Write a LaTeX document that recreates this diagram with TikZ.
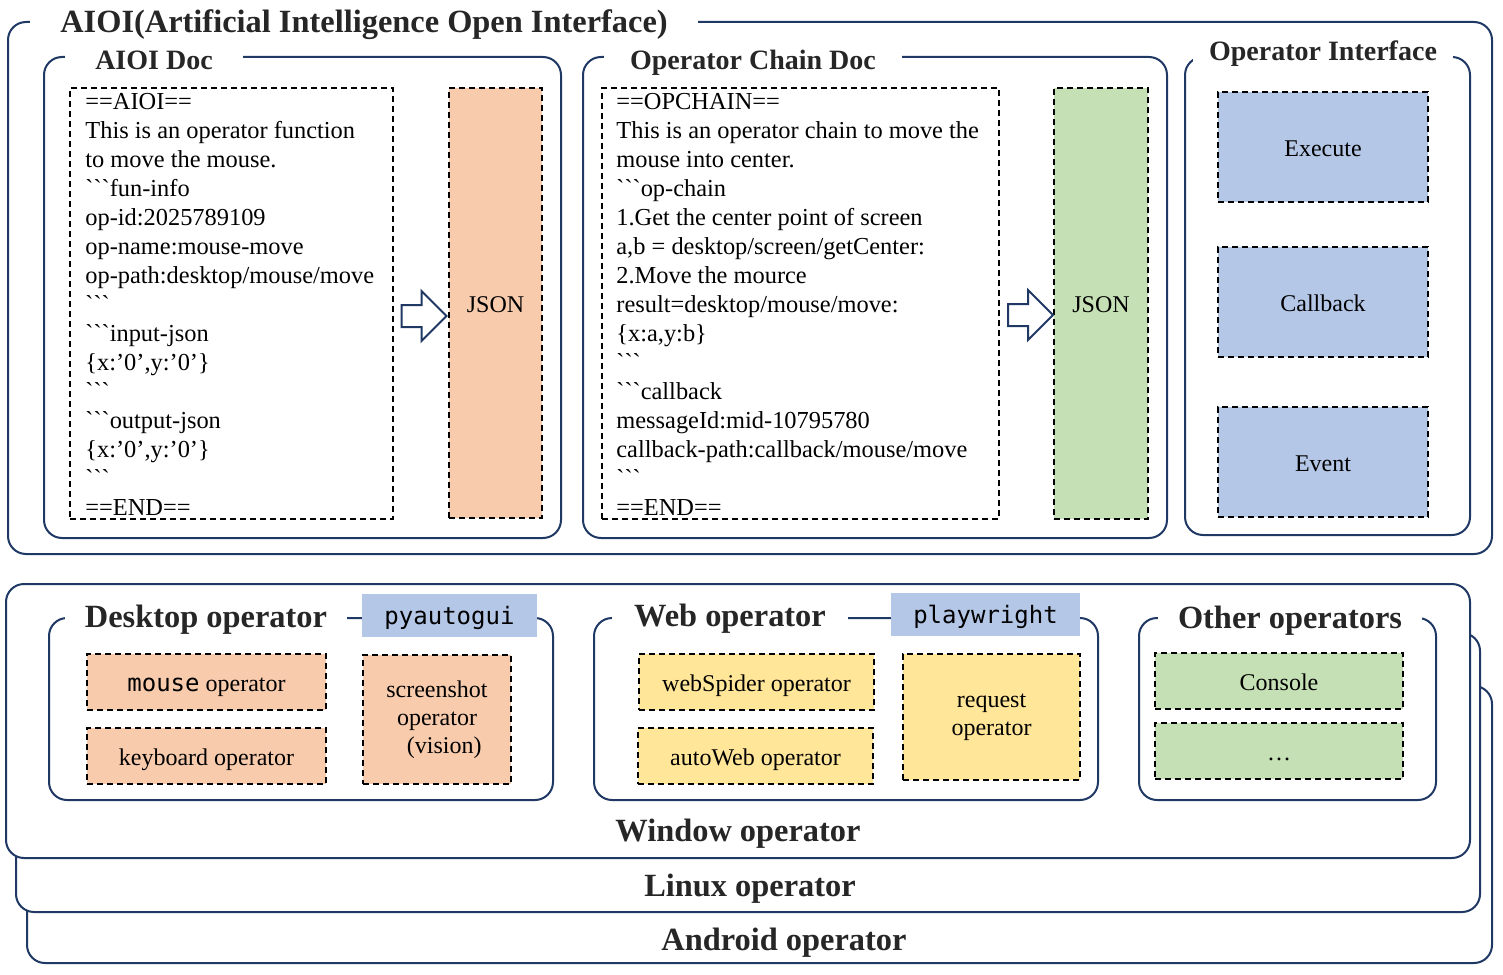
\documentclass[tikz,border=0pt]{standalone}
\usepackage{fontspec}
\setmainfont{Liberation Serif}
\setmonofont{DejaVu Sans Mono}
\usetikzlibrary{positioning, fit, shapes.arrows}

\definecolor{navy}{HTML}{1F3864}
\definecolor{peach}{HTML}{F8CBAD}
\definecolor{leaf}{HTML}{C5E0B4}
\definecolor{sky}{HTML}{B4C7E7}
\definecolor{butter}{HTML}{FFE699}
\definecolor{ink}{HTML}{262626}

\newcommand{\ticks}{\textasciigrave\textasciigrave\textasciigrave}

\begin{document}
\begin{tikzpicture}[
            x = 0.5pt,
            y = -0.5pt,
            frame/.style = {draw=navy, line width=1pt, rounded corners=9pt, inner sep=0pt},
            ttl/.style = {fill=white, text=ink, font=\bfseries\fontsize{14}{16}\selectfont, inner xsep=10pt, inner ysep=1pt},
            bigttl/.style = {ttl, font=\bfseries\fontsize{16.2}{18}\selectfont},
            lbl/.style = {text=ink, font=\bfseries\fontsize{16.2}{18}\selectfont},
            dbox/.style = {draw=black, line width=1pt, dash pattern=on 3pt off 2pt, inner sep=0pt, align=center, font=\fontsize{12}{14}\selectfont},
            oneline/.style = {text height=11pt, text depth=2pt},
            lib/.style = {fill=sky, inner sep=0pt, oneline, font=\ttfamily\fontsize{12}{14}\selectfont},
            doctext/.style = {inner sep=0pt, align=left, font=\fontsize{12.2}{14.5}\selectfont},
            bigarrow/.style = {single arrow, draw=navy, fill=white, line width=1pt, minimum height=22.5pt, minimum width=24pt, single arrow head extend=7pt, inner xsep=0pt, inner ysep=5pt}
        ]
        \useasboundingbox (0,0) rectangle (1503,974);

        \node[frame, fit={(8,22) (1492,554)}] (aioi) {};
        \node[bigttl, inner xsep=15pt] (aioittl) at (364,25) {AIOI(Artificial Intelligence Open Interface)};

        \node[frame, fit={(44,57) (561,538)}] (aioidoc) {};
        \node[ttl, inner xsep=15pt] (aioidocttl) at (154,60) {AIOI Doc};
        \node[dbox, fit={(70,88) (393,519)}] (aioibox) {};
        \node[doctext, below right=3pt and 8pt of aioibox.north west] (aioitxt) {==AIOI==\\
            This is an operator function\\
            to move the mouse.\\
            \ticks fun-info\\
            op-id:2025789109\\
            op-name:mouse-move\\
            op-path:desktop/mouse/move\\
            \ticks\\
            \ticks input-json\\
            \{x:'0',y:'0'\}\\
            \ticks\\
            \ticks output-json\\
            \{x:'0',y:'0'\}\\
            \ticks\\
            ==END==};
        \node[dbox, oneline, fill=peach, minimum width=46.5pt, minimum height=215pt] (aioijson) at (495.5,303) {JSON};
        \node[bigarrow] (aioiarr) at (418.5,316) {};

        \node[frame, fit={(583,57) (1167,538)}] (chaindoc) {};
        \node[ttl, inner xsep=13pt] (chaindocttl) at (753,63) {Operator Chain Doc};
        \node[dbox, fit={(602,88) (999,519)}] (chainbox) {};
        \node[doctext, below right=3pt and 7.5pt of chainbox.north west] (chaintxt) {==OPCHAIN==\\
            This is an operator chain to move the\\
            mouse into center.\\
            \ticks op-chain\\
            1.Get the center point of screen\\
            a,b = desktop/screen/getCenter:\\
            2.Move the mource\\
            result=desktop/mouse/move:\\
            \{x:a,y:b\}\\
            \ticks\\
            \ticks callback\\
            messageId:mid-10795780\\
            callback-path:callback/mouse/move\\
            \ticks\\
            ==END==};
        \node[dbox, oneline, fill=leaf, minimum width=47pt, minimum height=215.5pt] (chainjson) at (1101,303.5) {JSON};
        \node[bigarrow] (chainarr) at (1025,315) {};

        \node[frame, fit={(1185,57) (1470,535)}] (iface) {};
        \node[ttl, inner xsep=8pt] (ifacettl) at (1323,54) {Operator Interface};
        \node[dbox, oneline, fill=sky, minimum width=105pt, minimum height=55pt] (execute) at (1323,147) {Execute};
        \node[dbox, oneline, fill=sky, minimum width=105pt, minimum height=55pt] (callback) at (1323,302) {Callback};
        \node[dbox, oneline, fill=sky, minimum width=105pt, minimum height=55pt] (event) at (1323,462) {Event};

        \node[frame, fill=white, fit={(27,686) (1492,963)}] (android) {};
        \node[lbl] (androidlbl) at (784,943) {Android operator};
        \node[frame, fill=white, fit={(16,633) (1480,912)}] (linux) {};
        \node[lbl] (linuxlbl) at (750,889) {Linux operator};
        \node[frame, fill=white, fit={(6,584) (1470,858)}] (window) {};
        \node[lbl] (windowlbl) at (738,834) {Window operator};

        \node[frame, fit={(49,618) (553,800)}] (desktop) {};
        \node[bigttl] (desktopttl) at (206,620) {Desktop operator};
        \node[lib, minimum width=87.5pt, minimum height=21.5pt] (pyauto) at (449.5,615.5) {pyautogui};
        \node[dbox, oneline, fill=peach, minimum width=119.5pt, minimum height=28pt] (mouse) at (206.5,682) {{\ttfamily mouse} operator};
        \node[dbox, oneline, fill=peach, minimum width=119.5pt, minimum height=28pt] (keyboard) at (206.5,756) {keyboard operator};
        \node[dbox, fill=peach, minimum width=74pt, minimum height=64.5pt] (screenshot) at (437,719.5) {screenshot\\operator\\\hspace{0.6em}(vision)};

        \node[frame, fit={(594,618) (1098,800)}] (web) {};
        \node[bigttl, inner xsep=11pt] (webttl) at (730,619) {Web operator};
        \node[lib, minimum width=94.5pt, minimum height=21.5pt] (playwright) at (985.5,614.5) {playwright};
        \node[dbox, oneline, fill=butter, minimum width=117.5pt, minimum height=28pt] (spider) at (756.5,682) {webSpider operator};
        \node[dbox, oneline, fill=butter, minimum width=117.5pt, minimum height=28pt] (autoweb) at (755.5,756) {autoWeb operator};
        \node[dbox, fill=butter, minimum width=88.5pt, minimum height=63pt] (request) at (991.5,717) {request\\operator};

        \node[frame, fit={(1139,618) (1436,800)}] (other) {};
        \node[bigttl] (otherttl) at (1290,621) {Other operators};
        \node[dbox, oneline, fill=leaf, minimum width=124pt, minimum height=28pt] (console) at (1279,681) {Console};
        \node[dbox, oneline, fill=leaf, minimum width=124pt, minimum height=28pt] (more) at (1279,751) {\dots};
    \end{tikzpicture}
\end{document}
